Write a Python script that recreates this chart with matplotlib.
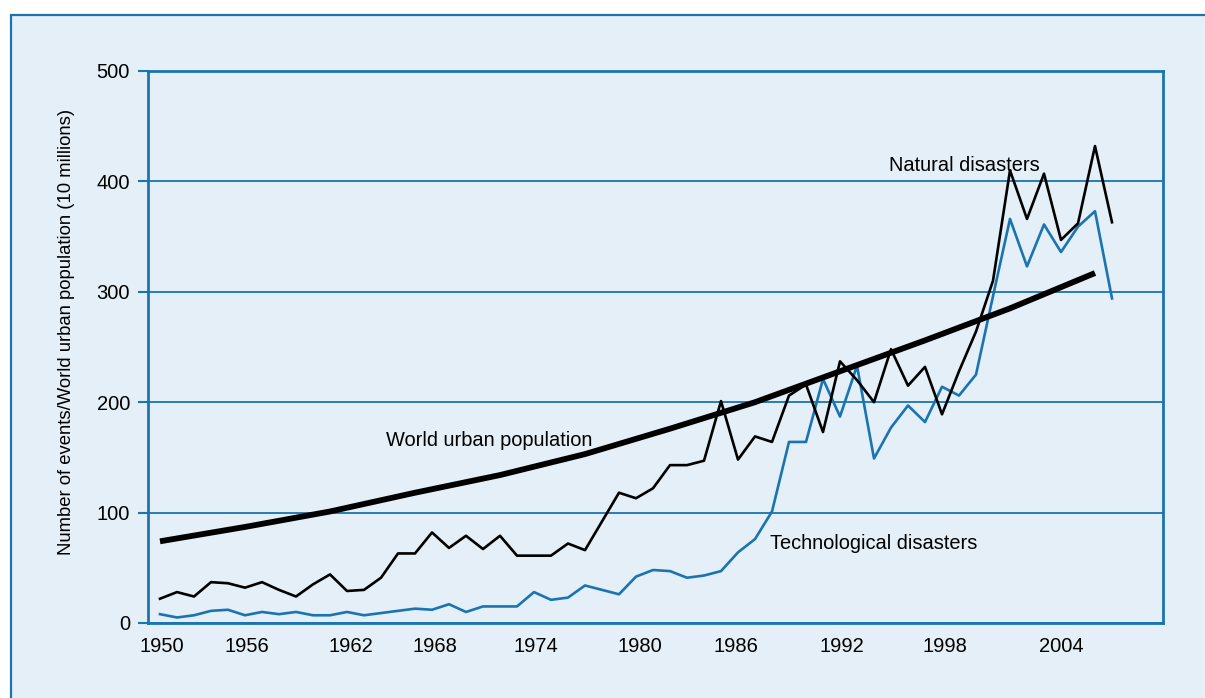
"""Natural / technological disasters vs world urban population, 1950-2006."""

import matplotlib
matplotlib.use("Agg")
import matplotlib.pyplot as plt
from matplotlib.patches import Rectangle

BLUE = "#1a74b1"
BG = "#e4eff7"
FONT = ["DejaVu Sans Condensed", "Liberation Sans Narrow", "Liberation Sans", "DejaVu Sans"]

years = list(range(1950, 2007))
natural = [22, 28, 24, 37, 36, 32, 37, 30, 24, 35,
           44, 29, 30, 41, 63, 63, 82, 68, 79, 67,
           79, 61, 61, 61, 72, 66, 92, 118, 113, 122,
           143, 143, 147, 201, 148, 169, 164, 206, 216, 173,
           237, 220, 200, 248, 215, 232, 189, 228, 264, 310,
           410, 366, 407, 347, 362, 432, 363]
technological = [8, 5, 7, 11, 12, 7, 10, 8, 10, 7,
                 7, 10, 7, 9, 11, 13, 12, 17, 10, 15,
                 15, 15, 28, 21, 23, 34, 30, 26, 42, 48,
                 47, 41, 43, 47, 64, 76, 101, 164, 164, 221,
                 187, 233, 149, 177, 197, 182, 214, 206, 225, 296,
                 366, 323, 361, 336, 359, 373, 294]
urban_years = [1950, 1955, 1960, 1965, 1970, 1975, 1980, 1985, 1990, 1995, 2000, 2005]
urban_pop = [74, 87, 101, 118, 134, 153, 176, 200, 228, 256, 285, 317]

# the source sets its year labels a little unevenly, keep them where they are
xtick_labels = ["1950", "1956", "1962", "1968", "1974", "1980", "1986", "1992", "1998", "2004"]
xtick_pos = [1950.1, 1955.1, 1961.2, 1966.2, 1972.1, 1978.2, 1983.9, 1990.1, 1996.2, 2003.0]
yticks = [0, 100, 200, 300, 400, 500]

fig = plt.figure(figsize=(12.05, 6.98), dpi=100, facecolor="white")
fig.patches.append(Rectangle((10.5 / 1205, -0.1), 1.2, 1.1 - 15 / 698,
                             transform=fig.transFigure, facecolor=BG,
                             edgecolor=BLUE, linewidth=1.6, zorder=-10))

ax = fig.add_axes([148 / 1205, 1 - 623 / 698, 1015 / 1205, 552 / 698])
ax.set_facecolor(BG)
ax.plot(years, technological, color=BLUE, linewidth=1.9, zorder=3)
ax.plot(years, natural, color="black", linewidth=1.9, zorder=4)
ax.plot(urban_years, urban_pop, color="black", linewidth=4.2, zorder=5,
        solid_capstyle="butt")

ax.set_xlim(1950 - 12 / 17, 1950 + 1003 / 17)
ax.set_ylim(0, 500)
ax.set_yticks(yticks)
ax.set_xticks(xtick_pos)
ax.set_xticklabels(xtick_labels)
ax.grid(axis="y", color=BLUE, linewidth=1.3)
ax.set_axisbelow(True)
for s in ax.spines.values():
    s.set_color(BLUE)
    s.set_linewidth(2.0)
ax.tick_params(axis="y", length=7, width=1.5, color=BLUE, pad=6)
ax.tick_params(axis="x", length=0, pad=10)
for lab in ax.get_xticklabels() + ax.get_yticklabels():
    lab.set_family(FONT)
    lab.set_fontsize(14.5)
ax.set_ylabel("Number of events/World urban population (10 millions)",
              family=FONT, fontsize=13.3)
ax.yaxis.set_label_coords(-0.072, 0.527)

ax.text(1963.3, 160, "World urban population", family=FONT, fontsize=14.4, va="baseline")
ax.text(1992.9, 409, "Natural disasters", family=FONT, fontsize=14.4, va="baseline")
ax.text(1985.9, 67, "Technological disasters", family=FONT, fontsize=14.4, va="baseline")

fig.savefig("out.png", dpi=100, facecolor="white")
